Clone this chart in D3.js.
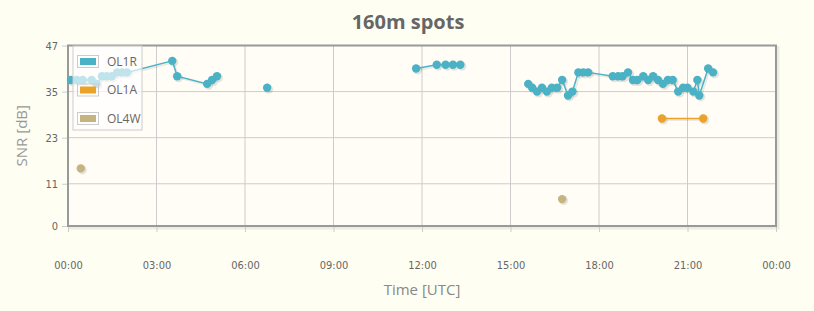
<!DOCTYPE html>
<html>
<head>
<meta charset="utf-8">
<script src="https://cdn.jsdelivr.net/npm/d3@7"></script>
<style>
  html, body { margin: 0; padding: 0; background: #fffef2; }
  svg { display: block; }
  .tick text { font-family: "Liberation Sans Narrow", "DejaVu Sans Condensed", sans-serif; font-size: 11px; fill: #666; }
</style>
</head>
<body>
<svg id="chart" width="814" height="311"></svg>
<script>
// series names + colours (jqPlot defaults)
var seriesNames = ["OL1R", "OL1A", "OL4W"];
var seriesColors = ["#4bb2c5", "#eaa228", "#c5b47f"];

// spots: [time UTC, SNR dB]; null = break in line
var ol1r = [
  ["00:06", 38], ["00:18", 38], ["00:30", 38], ["00:48", 38], ["00:58", 37],
  ["01:09", 39], ["01:19", 39], ["01:29", 39], ["01:40", 40], ["01:50", 40], ["02:00", 40],
  ["03:32", 43], ["03:42", 39], ["04:43", 37], ["04:53", 38], ["05:03", 39],
  null,
  ["06:45", 36],
  null,
  ["11:48", 41], ["12:30", 42], ["12:48", 42], ["13:03", 42], ["13:18", 42],
  null,
  ["15:36", 37], ["15:44", 36], ["15:54", 35], ["16:04", 36], ["16:14", 35], ["16:24", 36],
  ["16:35", 36], ["16:45", 38], ["16:57", 34], ["17:06", 35], ["17:18", 40], ["17:28", 40],
  ["17:38", 40], ["18:28", 39], ["18:39", 39], ["18:48", 39], ["18:59", 40], ["19:09", 38],
  ["19:18", 38], ["19:30", 39], ["19:40", 38], ["19:50", 39], ["20:00", 38], ["20:10", 37],
  ["20:20", 38], ["20:30", 38], ["20:41", 35], ["20:51", 36], ["21:00", 36], ["21:12", 35],
  ["21:20", 38], ["21:24", 34], ["21:42", 41], ["21:52", 40]
];
var ol1a = [["20:08", 28], ["21:32", 28]];
var ol4w = [["00:26", 15], null, ["16:45", 7]];

var yTicks = [0, 11, 23, 35, 47];
var xTickHours = [0, 3, 6, 9, 12, 15, 18, 21, 24];

var svg = d3.select("#chart");
var plotL = 68, plotR = 776, plotT = 45.5, plotB = 226;

var day = new Date(Date.UTC(2020, 0, 1));
function toDate(s) {
  var p = s.split(":");
  return new Date(day.getTime() + (+p[0] * 60 + +p[1]) * 60000);
}

var x = d3.scaleUtc().domain([day, d3.utcDay.offset(day, 1)]).range([plotL, plotR]);
var y = d3.scaleLinear().domain([0, 47]).range([plotB, plotT]);

// title
svg.append("text")
    .attr("x", 408).attr("y", 29)
    .attr("text-anchor", "middle")
    .style("font-family", "'Open Sans', sans-serif")
    .style("font-size", "20px")
    .style("font-weight", "bold")
    .style("fill", "#666")
    .text("160m spots");

// plot background + shadow
svg.append("rect")
    .attr("x", plotL + 2).attr("y", plotT + 2)
    .attr("width", plotR - plotL).attr("height", plotB - plotT)
    .attr("fill", "none").attr("stroke", "rgba(0,0,0,0.07)").attr("stroke-width", 3);
svg.append("rect")
    .attr("x", plotL).attr("y", plotT)
    .attr("width", plotR - plotL).attr("height", plotB - plotT)
    .attr("fill", "#fffdf6");

// grid
var xTickDates = xTickHours.map(function(h) { return d3.utcHour.offset(day, h); });
svg.append("g").selectAll("line").data(xTickDates).enter().append("line")
    .attr("x1", function(d) { return x(d); }).attr("x2", function(d) { return x(d); })
    .attr("y1", plotT).attr("y2", plotB)
    .attr("stroke", "#cccccc");
svg.append("g").selectAll("line").data(yTicks).enter().append("line")
    .attr("x1", plotL).attr("x2", plotR)
    .attr("y1", function(d) { return y(d); }).attr("y2", function(d) { return y(d); })
    .attr("stroke", "#cccccc");

// axes
var xAxis = d3.axisBottom(x).tickValues(xTickDates).tickFormat(d3.utcFormat("%H:%M"))
    .tickSize(6).tickPadding(29);
svg.append("g")
    .attr("transform", "translate(0," + plotB + ")")
    .call(xAxis)
    .call(function(g) {
      g.select(".domain").remove();
      g.selectAll(".tick line").attr("stroke", "#cccccc");
    });

var yAxis = d3.axisLeft(y).tickValues(yTicks).tickSize(6).tickPadding(4);
svg.append("g")
    .attr("transform", "translate(" + plotL + ",0)")
    .call(yAxis)
    .call(function(g) {
      g.select(".domain").remove();
      g.selectAll(".tick line").attr("stroke", "#cccccc");
    });

// border
svg.append("rect")
    .attr("x", plotL).attr("y", plotT)
    .attr("width", plotR - plotL).attr("height", plotB - plotT)
    .attr("fill", "none").attr("stroke", "#999").attr("stroke-width", 2);

// axis labels
svg.append("text")
    .attr("x", 422).attr("y", 295)
    .attr("text-anchor", "middle")
    .style("font-family", "'Open Sans', sans-serif")
    .style("font-size", "15px")
    .style("fill", "#888")
    .text("Time [UTC]");
svg.append("text")
    .attr("transform", "translate(27," + ((plotT + plotB) / 2) + ") rotate(-90)")
    .attr("text-anchor", "middle")
    .style("font-family", "'Open Sans', sans-serif")
    .style("font-size", "15px")
    .style("fill", "#999")
    .text("SNR [dB]");

// series
var line = d3.line()
    .defined(function(d) { return d !== null; })
    .x(function(d) { return x(toDate(d[0])); })
    .y(function(d) { return y(d[1]); });

var allSeries = [ol1r, ol1a, ol4w];
var plot = svg.append("g");
allSeries.forEach(function(data, i) {
  var color = seriesColors[i];
  var pts = data.filter(function(d) { return d !== null; });
  var g = plot.append("g");
  // shadow
  g.append("path").datum(data)
      .attr("d", line)
      .attr("transform", "translate(1.5,1.5)")
      .attr("fill", "none").attr("stroke", "rgba(0,0,0,0.08)").attr("stroke-width", 2);
  g.selectAll(".sh").data(pts).enter().append("circle")
      .attr("cx", function(d) { return x(toDate(d[0])) + 1.5; })
      .attr("cy", function(d) { return y(d[1]) + 1.5; })
      .attr("r", 4.5).attr("fill", "rgba(0,0,0,0.1)");
  g.append("path").datum(data)
      .attr("d", line)
      .attr("fill", "none").attr("stroke", color).attr("stroke-width", 1.5);
  g.selectAll(".pt").data(pts).enter().append("circle")
      .attr("cx", function(d) { return x(toDate(d[0])); })
      .attr("cy", function(d) { return y(d[1]); })
      .attr("r", 4.2).attr("fill", color);
});

// legend
var legend = svg.append("g").attr("transform", "translate(73,46)");
legend.append("rect")
    .attr("width", 69).attr("height", 84)
    .attr("fill", "rgba(255,255,255,0.65)")
    .attr("stroke", "#cccccc");
seriesNames.forEach(function(name, i) {
  var row = legend.append("g").attr("transform", "translate(0," + (15 + i * 28.5) + ")");
  row.append("rect")
      .attr("x", 4.5).attr("y", -5.5).attr("width", 21).attr("height", 12)
      .attr("fill", "none").attr("stroke", "#cccccc");
  row.append("rect")
      .attr("x", 7).attr("y", -3).attr("width", 16).attr("height", 7)
      .attr("fill", seriesColors[i]);
  row.append("text")
      .attr("x", 34).attr("y", 4.5)
      .style("font-family", "'Open Sans', sans-serif")
      .style("font-size", "12px")
      .style("fill", "#666")
      .text(name);
});
</script>
</body>
</html>
